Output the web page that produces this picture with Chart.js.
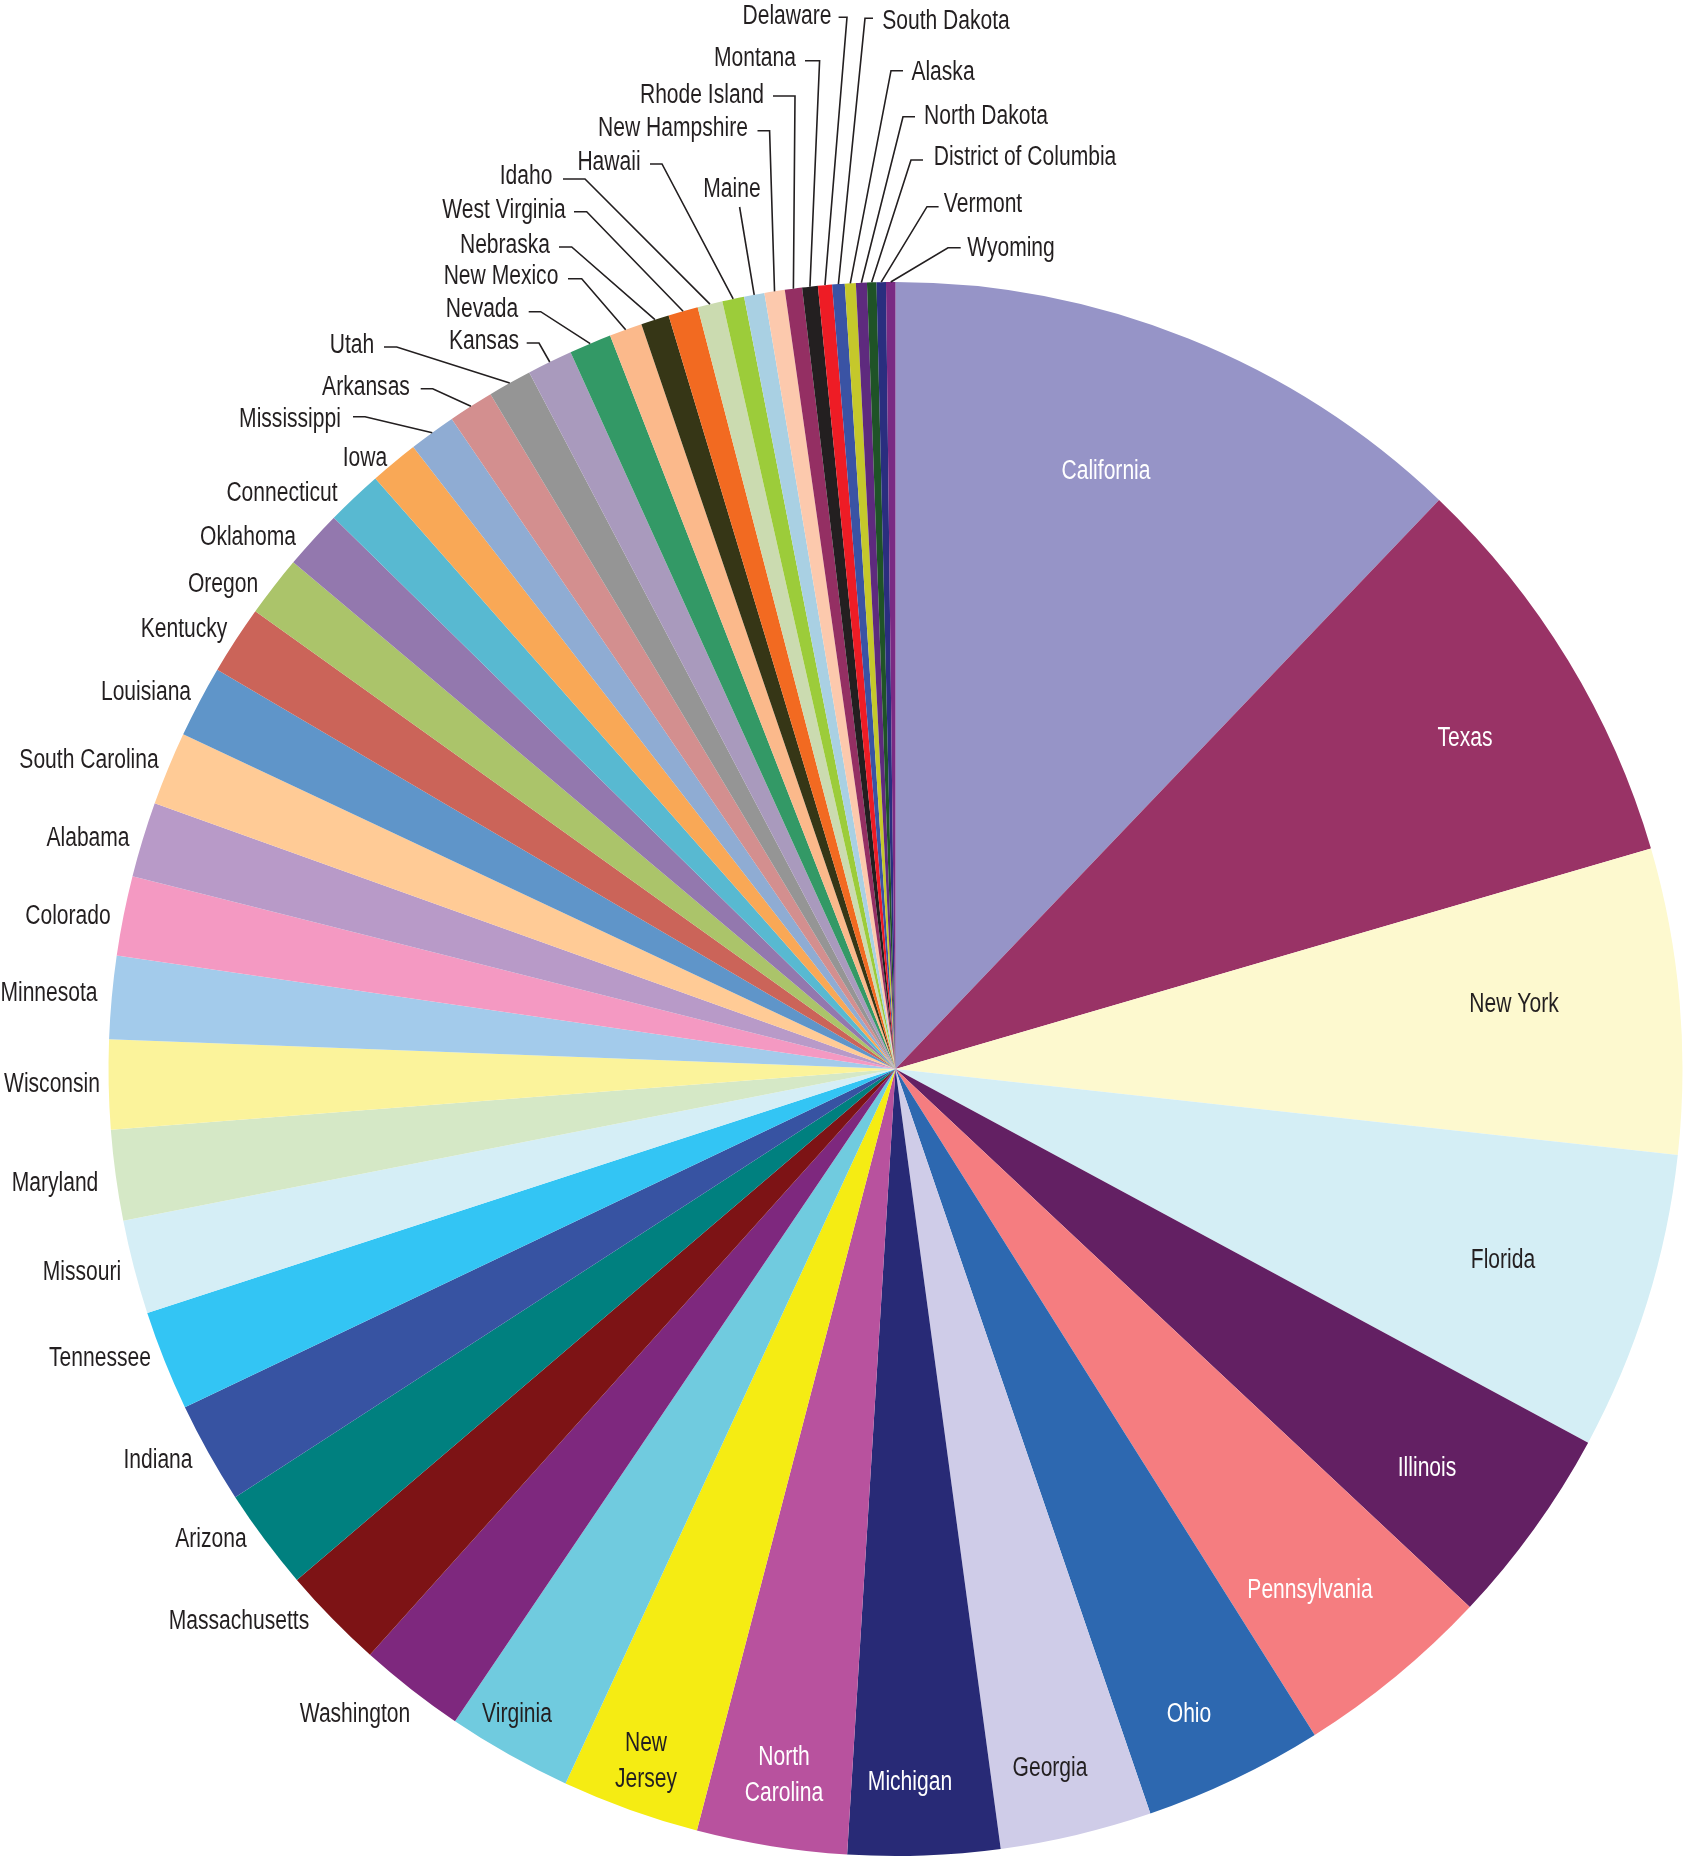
<!DOCTYPE html>
<html>
<head>
<meta charset="utf-8">
<title>Population by state</title>
<script src="https://cdn.jsdelivr.net/npm/chart.js@4"></script>
<style>
  html, body { margin: 0; padding: 0; background: #fff; }
  canvas { display: block; }
</style>
</head>
<body>
<canvas id="pie" width="1683" height="1858"></canvas>
<script>
const states = ['California','Texas','New York','Florida','Illinois','Pennsylvania','Ohio','Georgia','Michigan','North Carolina','New Jersey','Virginia','Washington','Massachusetts','Arizona','Indiana','Tennessee','Missouri','Maryland','Wisconsin','Minnesota','Colorado','Alabama','South Carolina','Louisiana','Kentucky','Oregon','Oklahoma','Connecticut','Iowa','Mississippi','Arkansas','Utah','Kansas','Nevada','New Mexico','Nebraska','West Virginia','Idaho','Hawaii','Maine','New Hampshire','Rhode Island','Montana','Delaware','South Dakota','Alaska','North Dakota','District of Columbia','Vermont','Wyoming'];

// millions
const population = [37.8,26.0,19.5,19.1,12.8,12.7,11.5,9.7,9.7,9.6,8.8,8.0,6.8,6.6,6.5,6.5,6.4,6.0,5.8,5.7,5.3,5.1,4.8,4.7,4.6,4.4,3.9,3.8,3.6,3.1,3.0,2.9,2.8,2.9,2.7,2.1,1.8,1.9,1.6,1.4,1.3,1.3,1.1,1.0,0.9,0.8,0.7,0.7,0.6,0.6,0.6];

const sliceColors = ['#9694C7','#993366','#FDF9CF','#D4EEF5','#632063','#F57D80','#2D68B0','#CFCCE8','#282A76','#B8529E','#F5EC13','#70CBDF','#7E287E','#7D1315','#00807F','#3753A2','#33C5F4','#D5EEF6','#D5E8C6','#FBF39B','#A3CBEB','#F499C2','#B89AC8','#FFCB96','#5F95C9','#CB6459','#ABC46A','#9378AE','#58B9D1','#F9A856','#8FACD3','#D38F8F','#959595','#A99ABD','#339966','#FBB98B','#363616','#F26A21','#CBDBB0','#9CCC3A','#A9D0E3','#FCC9AD','#942F63','#231F20','#EE1C25','#3A53A4','#C5C82B','#5E2A7E','#1F5327','#2A2E7F','#7A2A83'];

const whiteText = ['California','Texas','Illinois','Pennsylvania','Ohio','North Carolina','Michigan'];

// label centres in page pixels, two-line names get a line each
const labelSpots = {
  'California':[1106,472],'Texas':[1465,739],'New York':[1514,1005],'Florida':[1503,1261],'Illinois':[1427,1469],
  'Pennsylvania':[1310,1591],'Ohio':[1189,1715],'Georgia':[1050,1769],'Michigan':[910,1783],
  'North Carolina':[784,1758],'New Jersey':[646,1744],'Virginia':[517,1715],'Washington':[355,1715],
  'Massachusetts':[239,1622],'Arizona':[211,1540],'Indiana':[158,1461],'Tennessee':[100,1359],'Missouri':[82,1273],
  'Maryland':[55,1184],'Wisconsin':[52,1085],'Minnesota':[49,994],'Colorado':[68,917],'Alabama':[88,839],
  'South Carolina':[89,761],'Louisiana':[146,693],'Kentucky':[184,630],'Oregon':[223,585],'Oklahoma':[248,538],
  'Connecticut':[282,494],'Iowa':[365,459],'Mississippi':[290,420],'Arkansas':[366,388],'Utah':[352,346],
  'Kansas':[484,342],'Nevada':[482,310],'New Mexico':[501,277],'Nebraska':[505,246],'West Virginia':[504,211],
  'Idaho':[526,177],'Hawaii':[609,163],'Maine':[732,190],'New Hampshire':[673,129],'Rhode Island':[702,96],
  'Montana':[755,59],'Delaware':[787,17],'South Dakota':[946,22],'Alaska':[943,73],'North Dakota':[986,117],
  'District of Columbia':[1025,158],'Vermont':[983,205],'Wyoming':[1011,249]
};

const twoLine = { 'North Carolina':['North','Carolina'], 'New Jersey':['New','Jersey'] };

// stub start x, elbow x, y; the line then runs on to the middle of the slice's rim
const leaders = {
  'Delaware':[838.6,847,17.3],'South Dakota':[873,865,18.3],'Montana':[805,819.6,60.7],'Alaska':[903,891,70.7],
  'Rhode Island':[773,795,96],'North Dakota':[915,903,116.7],'New Hampshire':[757.5,769.6,130.7],
  'District of Columbia':[923,911,160],'Hawaii':[650,662,164],'Maine':[739.6,739.6,207],'Vermont':[938.6,927,206.7],
  'Wyoming':[960.7,948,247.7],'Idaho':[563,585,179],'West Virginia':[574,586.7,211.7],'Nebraska':[559,571.7,247],
  'New Mexico':[568,581.7,278.7],'Nevada':[528.7,540.7,311.7],'Kansas':[526.7,539,343],'Utah':[384,396.7,347],
  'Arkansas':[420.7,432.7,388.7],'Mississippi':[353,365,416.7]
};

// no condensed face installed, so squeeze Liberation Sans sideways
const labelFont = '27px "Liberation Sans", sans-serif';
const squeeze = 0.78;
const lineGap = 36;

const stateLabels = {
  id: 'stateLabels',
  afterDatasetsDraw(chart) {
    const ctx = chart.ctx;
    const arcs = chart.getDatasetMeta(0).data;
    ctx.save();
    ctx.font = labelFont;
    ctx.textAlign = 'center';
    ctx.textBaseline = 'middle';

    states.forEach((name, i) => {
      const spot = labelSpots[name];
      ctx.fillStyle = whiteText.includes(name) ? '#ffffff' : '#231F20';
      const lines = twoLine[name] || [name];
      lines.forEach((line, n) => {
        ctx.save();
        ctx.translate(spot[0], spot[1] + n * lineGap);
        ctx.scale(squeeze, 1);
        ctx.fillText(line, 0, 0);
        ctx.restore();
      });

      const lead = leaders[name];
      if (lead) {
        const a = arcs[i];
        const mid = (a.startAngle + a.endAngle) / 2;
        ctx.strokeStyle = '#231F20';
        ctx.lineWidth = 1.6;
        ctx.beginPath();
        ctx.moveTo(lead[0], lead[2]);
        ctx.lineTo(lead[1], lead[2]);
        ctx.lineTo(a.x + Math.cos(mid) * a.outerRadius, a.y + Math.sin(mid) * a.outerRadius);
        ctx.stroke();
      }
    });
    ctx.restore();
  }
};

new Chart(document.getElementById('pie'), {
  type: 'pie',
  data: {
    labels: states,
    datasets: [{ data: population, backgroundColor: sliceColors, borderWidth: 0 }]
  },
  options: {
    responsive: false,
    animation: false,
    layout: { padding: { left: 108.5, right: 0.5, top: 282, bottom: 2 } },
    plugins: { legend: { display: false }, tooltip: { enabled: false } }
  },
  plugins: [stateLabels]
});
</script>
</body>
</html>
